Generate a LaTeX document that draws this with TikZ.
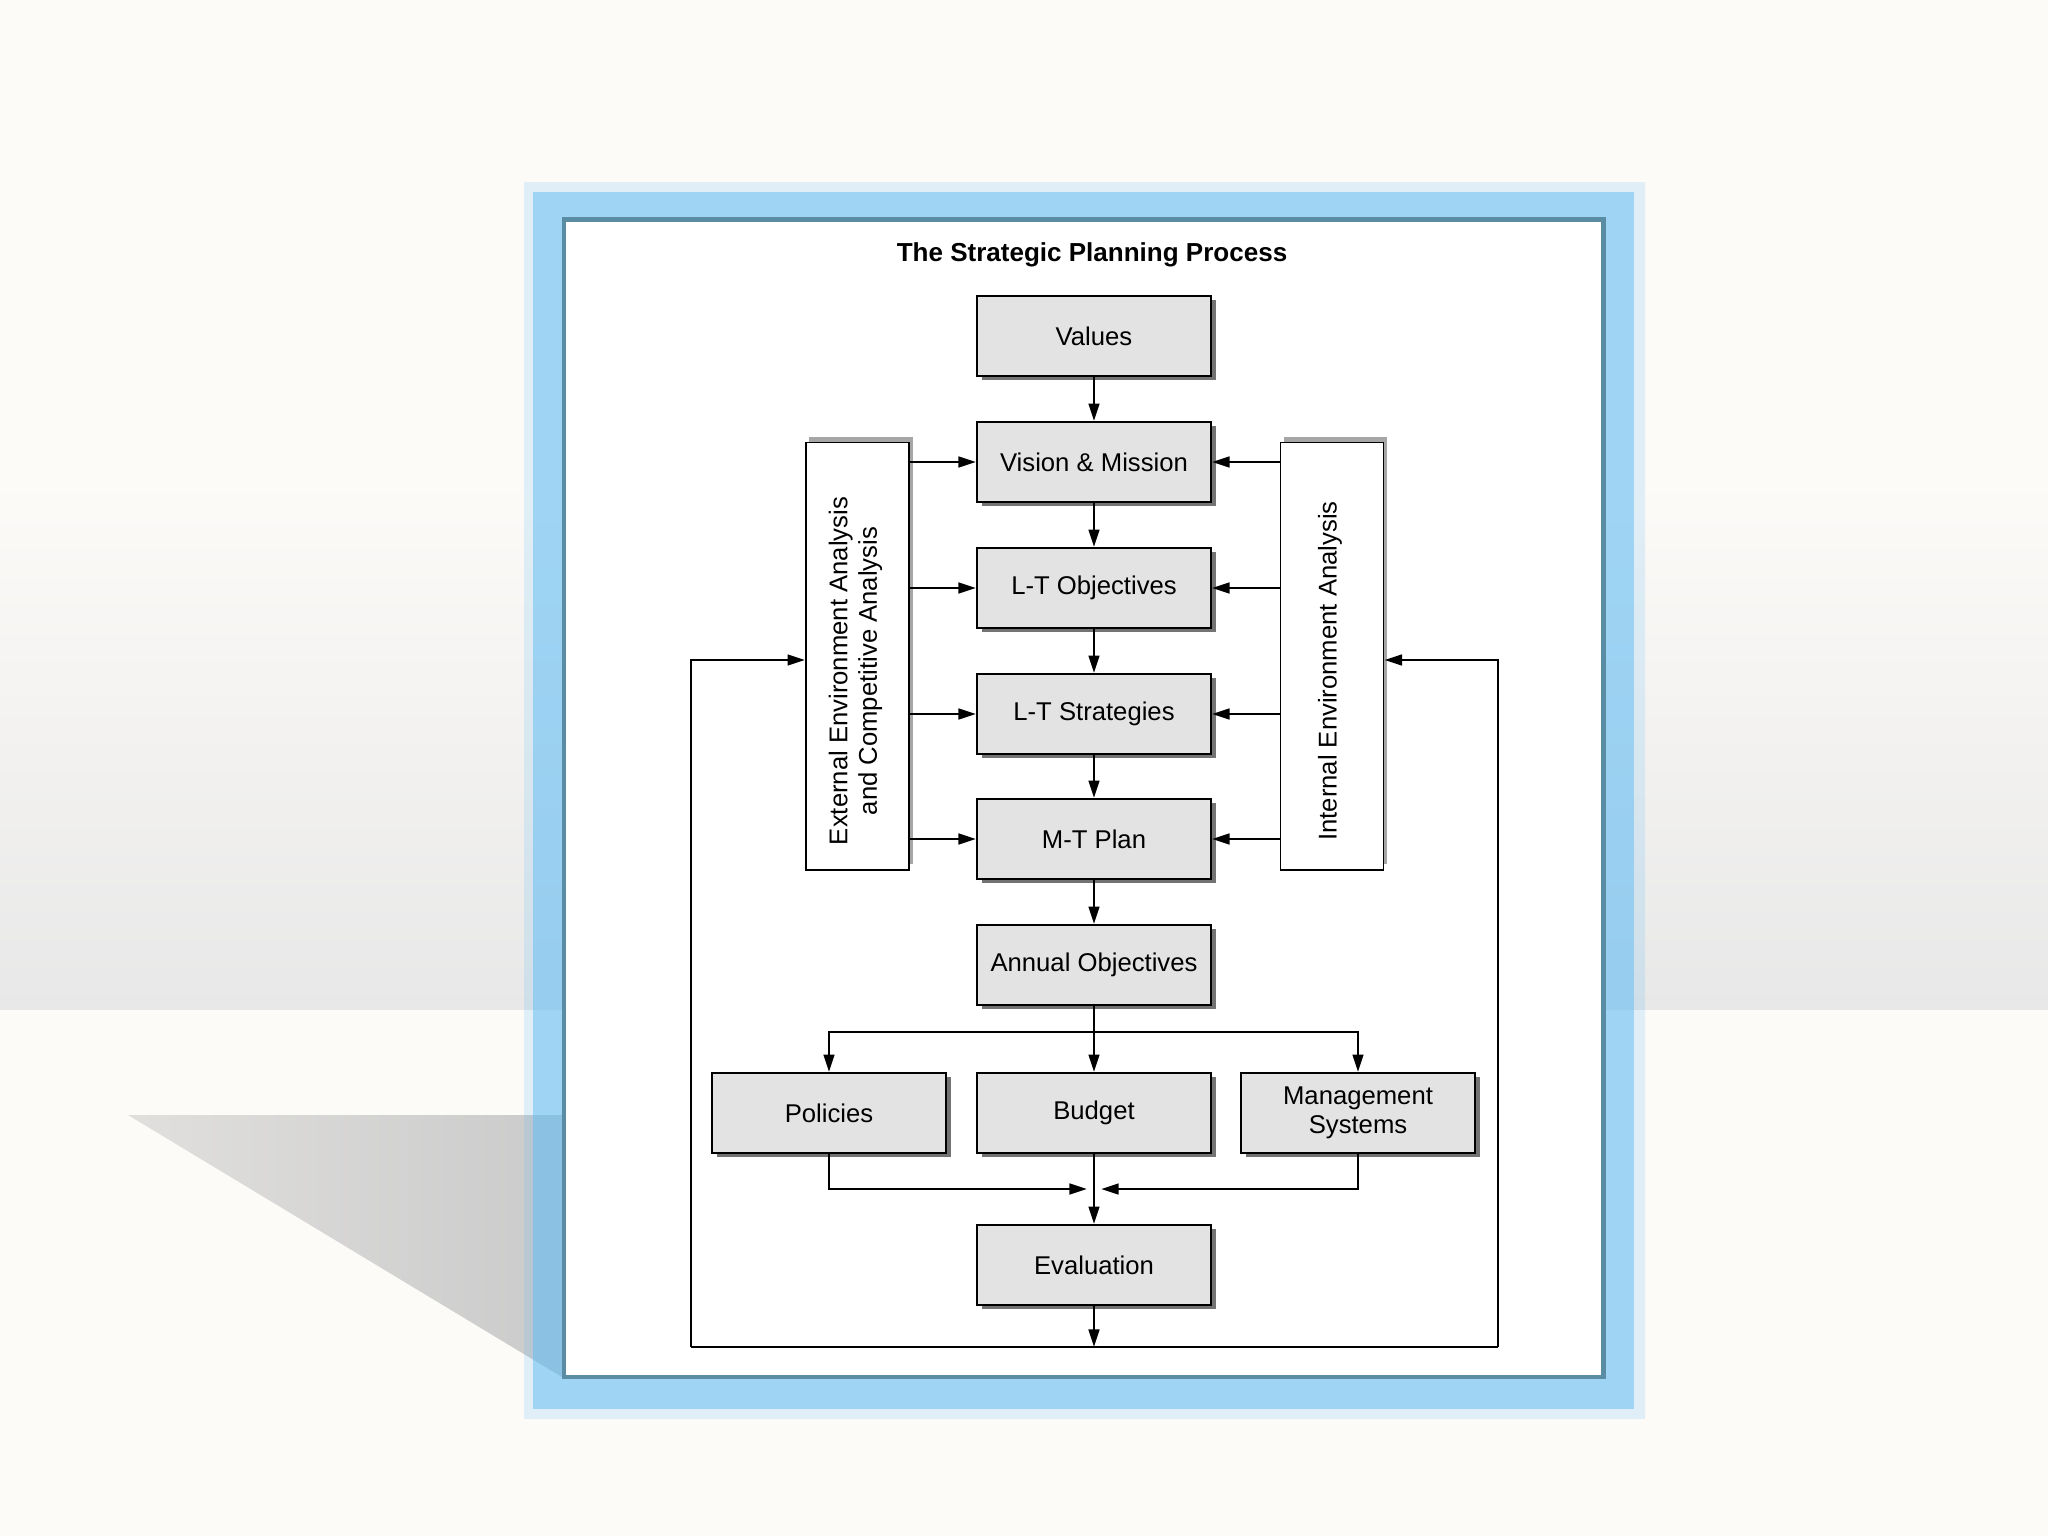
\documentclass[tikz,border=0pt]{standalone}
\usepackage{fontspec}
\setmainfont{Liberation Sans}
\usetikzlibrary{arrows.meta,shadows}
\definecolor{bg}{HTML}{FDFBF8}
\definecolor{band}{HTML}{E8E8E8}
\definecolor{shadowgray}{HTML}{C9C9C9}
\definecolor{frameblue}{RGB}{97,187,243}
\definecolor{framedark}{HTML}{5A8CA3}
\definecolor{boxgray}{HTML}{E3E3E3}
\begin{document}
\begin{tikzpicture}[x=0.01cm,y=-0.01cm,
  font=\fontsize{7.3}{8.4}\selectfont,
  mainbox/.style={draw=black, line width=0.5pt, fill=boxgray,
    minimum width=2.34cm, minimum height=0.8cm, inner sep=0pt, align=center,
    general shadow={fill=black!55, shadow xshift=1.4pt, shadow yshift=-1.2pt}},
  sidebox/.style={draw=black, line width=0.5pt, fill=white,
    minimum width=1.03cm, minimum height=4.27cm, inner sep=0pt,
    general shadow={fill=black!35, shadow xshift=1.0pt, shadow yshift=1.5pt}},
  conn/.style={line width=0.8pt},
  arr/.style={conn, -{Triangle[length=5pt,width=3pt]}},
]
% background
\useasboundingbox (0,0) rectangle (2048,1536);
\fill[bg] (0,0) rectangle (2048,1536);
\shade[top color=bg, bottom color=band] (0,480) rectangle (2048,1009);
\begin{scope}
  \clip (0,0) rectangle (564,1536);
  \shade[left color=shadowgray!55!bg, right color=shadowgray] (128,1115) -- (600,1115) -- (600,1400) -- cycle;
\end{scope}
% frame
\fill[frameblue, opacity=0.6] (533,192) rectangle (1634,1409);
\fill[frameblue, opacity=0.18, even odd rule] (524,182) rectangle (1645,1419) (533,192) rectangle (1634,1409);
\draw[framedark, line width=1.4pt, fill=white] (564,219.5) rectangle (1603.5,1377);

% title
\node[font=\bfseries\fontsize{7.4}{9}\selectfont] (title) at (1092,255) {The Strategic Planning Process};

% main boxes
\node[mainbox] (val) at (1094,336) {Values};
\node[mainbox] (vis) at (1094,462) {Vision \& Mission};
\node[mainbox] (lto) at (1094,588) {L-T Objectives};
\node[mainbox] (lts) at (1094,714) {L-T Strategies};
\node[mainbox] (mtp) at (1094,839) {M-T Plan};
\node[mainbox] (ao) at (1094,965) {Annual Objectives};
\node[mainbox] (pol) at (829,1113) {Policies};
\node[mainbox] (bud) at (1094,1113) {Budget};
\node[mainbox] (mgt) at (1358,1113) {Management\\Systems};
\node[mainbox] (eval) at (1094,1265) {Evaluation};

% side boxes
\node[sidebox] (ext) at (857.5,656) {};
\node[rotate=90, align=center] (exttext) at (855.5,671) {External Environment Analysis\\and Competitive Analysis};
\node[sidebox] (int) at (1332,656) {};
\node[rotate=90] (inttext) at (1330,671) {Internal Environment Analysis};

% vertical flow
\draw[arr] (val) -- (vis);
\draw[arr] (vis) -- (lto);
\draw[arr] (lto) -- (lts);
\draw[arr] (lts) -- (mtp);
\draw[arr] (mtp) -- (ao);

% side inputs
\foreach \n in {vis,lto,lts,mtp}{
  \draw[arr] (ext.east |- \n) -- (\n.west);
  \draw[arr] (int.west |- \n) -- (\n.east);
}

% branch
\coordinate (br) at (1094,1032);
\draw[conn] (ao.south) -- (br);
\draw[arr] (br) -- (bud.north);
\draw[arr] (br) -| (pol.north);
\draw[arr] (br) -| (mgt.north);

% merge
\coordinate (mgl) at (1087,1189);
\coordinate (mgr) at (1101,1189);
\draw[arr] (pol.south) |- (mgl);
\draw[arr] (mgt.south) |- (mgr);
\draw[arr] (bud.south) -- (eval.north);

% feedback loop
\coordinate (lbl) at (691,1347);
\coordinate (lbr) at (1498,1347);
\coordinate (fb) at (691,660);
\draw[conn] (lbl) -- (lbr);
\draw[arr] (eval.south) -- (eval.south |- lbl);
\draw[arr] (lbl) |- (ext.west |- fb);
\draw[arr] (lbr) |- (int.east |- fb);
\end{tikzpicture}
\end{document}
